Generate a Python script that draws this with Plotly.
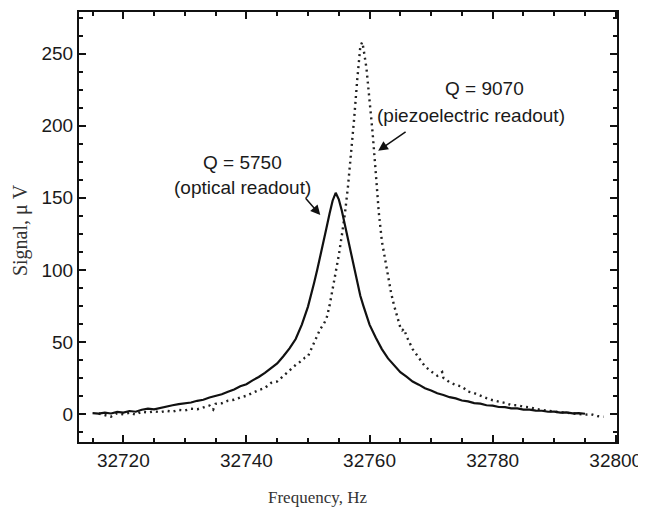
import plotly.graph_objects as go

# Optical readout (solid line)
opt_f = [32715, 32716, 32717, 32718, 32719, 32720, 32721, 32722, 32723, 32724,
         32725, 32726, 32727, 32728, 32729, 32730, 32731, 32732, 32733, 32734,
         32735, 32736, 32737, 32738, 32739, 32740, 32741, 32742, 32743, 32744,
         32745, 32746, 32747, 32748, 32749, 32750, 32750.5, 32751, 32751.5, 32752,
         32752.5, 32753, 32753.5, 32754, 32754.5, 32755, 32755.5, 32756, 32756.5, 32757,
         32757.5, 32758, 32758.5, 32759, 32759.5, 32760, 32761, 32762, 32763, 32764,
         32765, 32766, 32767, 32768, 32769, 32770, 32771, 32772, 32773, 32774,
         32775, 32776, 32777, 32778, 32779, 32780, 32781, 32782, 32783, 32784,
         32785, 32786, 32787, 32788, 32789, 32790, 32791, 32792, 32793, 32794, 32795]
opt_v = [0.5, 0.2, 0.9, 0.3, 1.4, 0.9, 2.0, 1.5, 2.9, 3.6,
         3.1, 4.2, 4.8, 6.0, 6.8, 7.4, 7.9, 9.1, 9.8, 11.4,
         12.6, 13.6, 15.4, 17.0, 19.2, 20.6, 23.3, 25.6, 28.5, 31.6,
         35.0, 40.0, 45.5, 52.0, 62.0, 74.5, 82.0, 91.0, 100.0, 109.0,
         119.0, 129.0, 139.0, 148.0, 153.5, 149.0, 141.0, 131.0, 120.0, 110.0,
         100.0, 91.0, 82.0, 75.0, 68.0, 62.0, 53.0, 45.0, 38.5, 33.5,
         29.0, 25.8, 22.5, 20.3, 17.8, 16.2, 14.3, 13.1, 11.6, 10.8,
         9.3, 8.7, 7.5, 7.1, 6.0, 5.7, 4.8, 4.7, 3.9, 3.8,
         3.0, 3.0, 2.3, 2.2, 1.5, 1.6, 0.9, 1.1, 0.4, 0.6, 0.1]

# Piezoelectric readout (dotted line)
pz_f = [32716, 32717, 32718, 32719, 32720, 32721, 32722, 32723, 32724, 32725,
        32726, 32727, 32728, 32729, 32730, 32731, 32732, 32733, 32734, 32734.6,
        32735, 32736, 32737, 32738, 32739, 32740, 32741, 32742, 32743, 32744,
        32745, 32746, 32747, 32748, 32749, 32749.5, 32750, 32750.5, 32751, 32751.5,
        32752, 32752.5, 32753, 32753.5, 32754, 32754.5, 32755, 32755.5, 32756, 32756.5,
        32757, 32757.5, 32758, 32758.5, 32758.8, 32759, 32759.5, 32760, 32760.5, 32761,
        32761.5, 32762, 32762.5, 32763, 32763.5, 32764, 32764.5, 32765, 32765.3, 32765.6,
        32766, 32766.5, 32767, 32768, 32769, 32770, 32771, 32771.8, 32772, 32773,
        32774, 32775, 32776, 32777, 32778, 32779, 32780, 32781, 32782, 32783,
        32784, 32785, 32786, 32787, 32788, 32789, 32790, 32791, 32792, 32793,
        32794, 32795, 32796, 32797, 32798]
pz_v = [0.3, -0.8, -1.9, 0.5, -0.3, 0.8, -0.5, 1.6, 0.9, 1.8,
        1.2, 2.2, 1.5, 2.8, 2.4, 3.6, 3.2, 4.5, 5.8, 3.0,
        7.0, 7.4, 9.2, 9.8, 11.5, 12.6, 14.8, 16.5, 18.0, 21.5,
        22.5, 26.5, 30.5, 34.0, 37.0, 39.0, 40.0, 45.0, 50.0, 55.0,
        59.0, 62.0, 66.0, 75.0, 86.0, 97.0, 110.0, 124.0, 139.0, 158.0,
        180.0, 205.0, 232.0, 255.0, 258.0, 254.0, 240.0, 218.0, 195.0, 168.0,
        140.0, 120.0, 107.0, 95.0, 84.0, 75.0, 67.0, 60.0, 58.0, 59.0,
        54.0, 49.0, 45.0, 39.0, 33.0, 29.5, 26.5, 29.0, 25.0, 22.0,
        20.0, 19.0, 15.5, 14.5, 12.5, 11.0, 9.5, 8.8, 7.6, 6.2,
        6.0, 5.0, 4.6, 3.4, 3.0, 2.2, 1.6, 1.2, 0.6, 0.5,
        0.2, -0.5, -0.2, -1.5, -2.0]

x_ticks = [32720, 32740, 32760, 32780, 32800]
y_ticks = [0, 50, 100, 150, 200, 250]

fig = go.Figure()
fig.add_trace(go.Scatter(x=pz_f, y=pz_v, mode="lines",
                         line=dict(color="#222222", width=2.4, dash="2px,4px"),
                         showlegend=False))
fig.add_trace(go.Scatter(x=opt_f, y=opt_v, mode="lines",
                         line=dict(color="#111111", width=2.2),
                         showlegend=False))

tickfont = dict(family="Liberation Sans, Arial, sans-serif", size=19, color="#1a1a1a")
ann_font = dict(family="Liberation Sans, Arial, sans-serif", size=19, color="#1a1a1a")
xtitle_font = dict(family="Liberation Serif, Times New Roman, serif", size=17, color="#333333")
ytitle_font = dict(family="Liberation Serif, Times New Roman, serif", size=20, color="#333333")

# page body has an 8px margin: size figure so the plot frame lands where the reference has it
fig.update_layout(
    width=638, height=503,
    margin=dict(l=71, r=29, t=4, b=69),
    paper_bgcolor="white", plot_bgcolor="white",
    xaxis=dict(range=[32712.8, 32800.2], tickvals=x_ticks, ticktext=[str(v) for v in x_ticks],
               ticks="inside", ticklen=7, tickwidth=1.5, tickcolor="#111",
               showline=True, linewidth=2, linecolor="#111", mirror="ticks",
               showgrid=False, zeroline=False, tickfont=tickfont, automargin=False,
               minor=dict(ticks="inside", dtick=5, tick0=32715, ticklen=4, tickwidth=1.5,
                          tickcolor="#111", showgrid=False)),
    yaxis=dict(range=[-19.5, 279], tickvals=y_ticks, ticktext=[str(v) for v in y_ticks],
               ticks="inside", ticklen=7, tickwidth=1.5, tickcolor="#111",
               showline=True, linewidth=2, linecolor="#111", mirror="ticks",
               showgrid=False, zeroline=False, tickfont=tickfont, automargin=False,
               minor=dict(ticks="inside", dtick=12.5, tick0=0, ticklen=4, tickwidth=1.5,
                          tickcolor="#111", showgrid=False)),
)

anns = [
    dict(x=32739.4, y=174.7, xref="x", yref="y", text="Q = 5750", showarrow=False, font=ann_font),
    dict(x=32739.4, y=157.0, xref="x", yref="y", text="(optical readout)", showarrow=False, font=ann_font),
    dict(x=32778.6, y=225.7, xref="x", yref="y", text="Q = 9070", showarrow=False, font=ann_font),
    dict(x=32776.5, y=207.0, xref="x", yref="y", text="(piezoelectric readout)", showarrow=False, font=ann_font),
    dict(x=32752.0, y=138.0, ax=32749.4, ay=150.7, xref="x", yref="y", axref="x", ayref="y",
         text="", showarrow=True, arrowhead=2, arrowsize=1.3, arrowwidth=1.5, arrowcolor="#111"),
    dict(x=32761.4, y=182.6, ax=32766.1, ay=196.5, xref="x", yref="y", axref="x", ayref="y",
         text="", showarrow=True, arrowhead=2, arrowsize=1.3, arrowwidth=1.5, arrowcolor="#111"),
    dict(x=0.4424, y=-0.130, xref="paper", yref="paper", text="Frequency, Hz", showarrow=False,
         font=xtitle_font, xanchor="center", yanchor="middle"),
    dict(x=-0.1095, y=0.493, xref="paper", yref="paper", text="Signal, μ V", showarrow=False,
         font=ytitle_font, textangle=-90, xanchor="center", yanchor="middle"),
]
fig.update_layout(annotations=anns)

fig.write_html("out.html")
